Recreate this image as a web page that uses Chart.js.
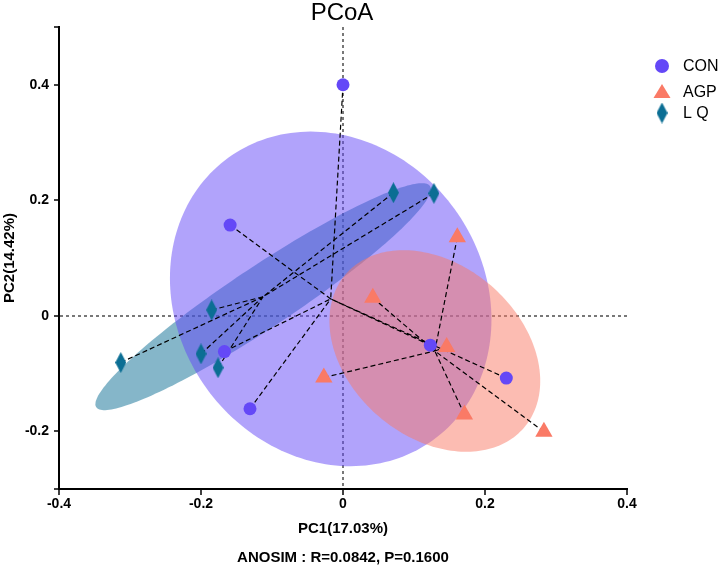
<!DOCTYPE html>
<html><head><meta charset="utf-8">
<script src="https://cdn.jsdelivr.net/npm/chart.js@4.4.1/dist/chart.umd.min.js"></script>
<style>html,body{margin:0;padding:0;background:#fff;}</style>
</head><body>
<canvas id="c" width="722" height="568" style="display:block;width:722px;height:568px"></canvas>
<script>
// ---- data ----
const groupNames = ['CON', 'AGP', 'LQ'];
const legendLabels = ['CON', 'AGP', 'L Q'];
const conX = [0.000, -0.159, -0.167, -0.131, 0.123, 0.230];
const conY = [0.400, 0.157, -0.062, -0.161, -0.051, -0.108];
const agpX = [0.161, 0.042, 0.146, -0.027, 0.171, 0.283];
const agpY = [0.136, 0.031, -0.054, -0.107, -0.171, -0.201];
const lqX = [0.071, 0.128, -0.185, -0.200, -0.176, -0.313];
const lqY = [0.213, 0.212, 0.010, -0.066, -0.090, -0.081];
const xTicks = [-0.4, -0.2, 0, 0.2, 0.4];
const yTicks = [-0.2, 0, 0.2, 0.4];
const xRange = [-0.4, 0.4];
const yRange = [-0.3, 0.5];
const chartTitle = 'PCoA';
const xTitle = 'PC1(17.03%)';
const yTitle = 'PC2(14.42%)';
const noteText = 'ANOSIM : R=0.0842, P=0.1600';
const ellipseScale = 1.37;

// ---- styles ----
const pointColors = ['#6448F7', '#FA7A66', '#0B6E94'];
const fillColors = ['rgba(100,72,247,0.5)', 'rgba(250,122,102,0.5)', 'rgba(11,110,148,0.5)'];
const FONT = '"Liberation Sans", Arial, Helvetica, sans-serif';

const xs = [conX, agpX, lqX];
const ys = [conY, agpY, lqY];
const mean = a => a.reduce((s, v) => s + v, 0) / a.length;
const pts = xs.map((ax, g) => ax.map((v, i) => ({x: v, y: ys[g][i]})));
const cents = xs.map((ax, g) => ({x: mean(ax), y: mean(ys[g])}));

function makeDiamond(w, h, color) {
  const c = document.createElement('canvas');
  c.width = w; c.height = h;
  const g = c.getContext('2d');
  g.fillStyle = color;
  g.beginPath();
  g.moveTo(w / 2, 0); g.lineTo(w, h / 2); g.lineTo(w / 2, h); g.lineTo(0, h / 2);
  g.closePath(); g.fill();
  return c;
}
const diamond = makeDiamond(11, 21, pointColors[2]);

// separate point -> centroid segments (null breaks the path)
function spider(g) {
  const out = [];
  pts[g].forEach(p => { out.push(p); out.push(cents[g]); out.push({x: null, y: null}); });
  return out;
}

function ellipsePath(ctx, g, sx, sy) {
  const ax = xs[g], ay = ys[g], n = ax.length;
  const mx = cents[g].x, my = cents[g].y;
  let a = 0, b = 0, c = 0;
  for (let i = 0; i < n; i++) {
    const dx = ax[i] - mx, dy = ay[i] - my;
    a += dx * dx; b += dx * dy; c += dy * dy;
  }
  a /= (n - 1); b /= (n - 1); c /= (n - 1);
  const l11 = Math.sqrt(a), l21 = b / l11, l22 = Math.sqrt(Math.max(c - l21 * l21, 0));
  ctx.beginPath();
  for (let k = 0; k <= 200; k++) {
    const t = k / 200 * Math.PI * 2;
    const u = Math.cos(t) * ellipseScale, v = Math.sin(t) * ellipseScale;
    const px = sx.getPixelForValue(mx + l11 * u);
    const py = sy.getPixelForValue(my + l21 * u + l22 * v);
    if (k === 0) ctx.moveTo(px, py); else ctx.lineTo(px, py);
  }
  ctx.closePath();
}

const overlay = {
  id: 'overlay',
  beforeDatasetsDraw(chart) {
    const {ctx, scales} = chart;
    ctx.save();
    [2, 0, 1].forEach(g => {
      ellipsePath(ctx, g, scales.x, scales.y);
      ctx.fillStyle = fillColors[g];
      ctx.fill();
    });
    ctx.restore();
  },
  afterDraw(chart) {
    const {ctx, chartArea} = chart;
    const cx = (chartArea.left + chartArea.right) / 2;
    ctx.save();
    ctx.fillStyle = '#000';
    ctx.textAlign = 'center';
    ctx.textBaseline = 'middle';
    ctx.font = '24px ' + FONT;
    ctx.fillText(chartTitle, cx - 1, 13);
    ctx.font = 'bold 15px ' + FONT;
    ctx.fillText(noteText, cx, 558);
    // legend
    const lx = 662, ly = [66, 92, 113];
    ctx.fillStyle = pointColors[0];
    ctx.beginPath(); ctx.arc(lx, ly[0], 7, 0, Math.PI * 2); ctx.fill();
    ctx.fillStyle = pointColors[1];
    ctx.beginPath(); ctx.moveTo(lx, ly[1] - 8); ctx.lineTo(lx + 8.5, ly[1] + 6); ctx.lineTo(lx - 8.5, ly[1] + 6); ctx.closePath(); ctx.fill();
    ctx.drawImage(diamond, lx - diamond.width / 2, ly[2] - diamond.height / 2);
    ctx.fillStyle = '#000';
    ctx.textAlign = 'left';
    ctx.font = '16px ' + FONT;
    legendLabels.forEach((t, i) => ctx.fillText(t, 683, ly[i] + 1));
    ctx.restore();
  }
};

const fmt = v => (v === 0 ? '0' : v.toFixed(1));

new Chart(document.getElementById('c'), {
  type: 'scatter',
  data: {
    datasets: [
      {label: groupNames[0], data: pts[0], backgroundColor: pointColors[0], borderWidth: 0, pointStyle: 'circle', pointRadius: 6.5, order: 0},
      {label: groupNames[1], data: pts[1], backgroundColor: pointColors[1], borderWidth: 0, pointStyle: 'triangle', pointRadius: 10, order: 0},
      {label: groupNames[2], data: pts[2], backgroundColor: pointColors[2], borderWidth: 0, pointStyle: diamond, pointRadius: 10, order: 0},
      ...[0, 1, 2].map(g => ({
        label: groupNames[g] + ' spider', data: spider(g), showLine: true, spanGaps: false, pointRadius: 0,
        borderColor: '#000', borderWidth: 1.2, borderDash: [5, 3], tension: 0, order: 1
      }))
    ]
  },
  options: {
    responsive: false,
    animation: false,
    events: [],
    layout: {padding: {top: 27, right: 95, bottom: 0, left: 0}},
    plugins: {legend: {display: false}, tooltip: {enabled: false}, title: {display: false}},
    scales: {
      x: {
        type: 'linear', min: xRange[0], max: xRange[1],
        afterBuildTicks: s => { s.ticks = xTicks.map(v => ({value: v})); },
        afterFit: s => { s.height = 79; },
        ticks: {callback: v => fmt(v), color: '#000', font: {family: FONT, size: 14, weight: 'bold'}, padding: 1, maxRotation: 0, autoSkip: false},
        grid: {
          color: c => (c.tick && c.tick.value === 0 ? 'rgba(105,105,105,0.9)' : 'rgba(0,0,0,0)'),
          lineWidth: 2, drawTicks: true, tickLength: 6, tickColor: '#000', tickWidth: 1.5
        },
        border: {display: true, color: '#000', width: 2, dash: [3, 3]},
        title: {display: true, text: xTitle, color: '#000', font: {family: FONT, size: 15, weight: 'bold'}, padding: {top: 0, bottom: 30}}
      },
      y: {
        type: 'linear', min: yRange[0], max: yRange[1],
        afterBuildTicks: s => { s.ticks = [yRange[0], ...yTicks, yRange[1]].map(v => ({value: v})); },
        afterFit: s => { s.width = 59; },
        ticks: {callback: v => (yTicks.includes(v) ? fmt(v) : ''), color: '#000', font: {family: FONT, size: 14, weight: 'bold'}, padding: 5, autoSkip: false},
        grid: {
          color: c => (c.tick && c.tick.value === 0 ? 'rgba(105,105,105,0.9)' : 'rgba(0,0,0,0)'),
          lineWidth: 2, drawTicks: true, tickLength: 5, tickColor: '#000', tickWidth: 1.5
        },
        border: {display: true, color: '#000', width: 2, dash: [3, 3]},
        title: {display: true, text: yTitle, color: '#000', font: {family: FONT, size: 15, weight: 'bold'}, padding: {top: 1, bottom: 0}}
      }
    }
  },
  plugins: [overlay]
});
</script>
</body></html>
